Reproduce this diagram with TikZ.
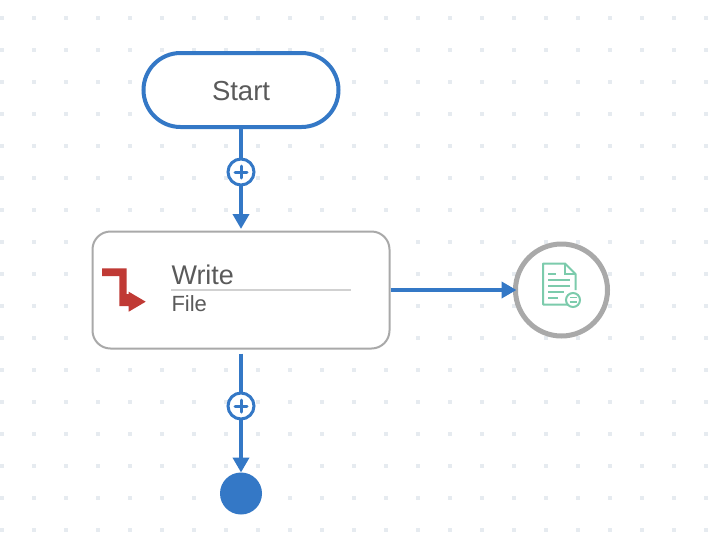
\documentclass[tikz,border=0pt]{standalone}
\usepackage{fontspec}
\setmainfont{Liberation Sans}
\usetikzlibrary{arrows.meta}
\definecolor{flowblue}{HTML}{3478C6}
\definecolor{boxgrey}{HTML}{A9A9A9}
\definecolor{txtgrey}{HTML}{5A5A5A}
\definecolor{dotgrey}{HTML}{E6EBF0}
\definecolor{iconred}{HTML}{C03A35}
\definecolor{icongreen}{HTML}{7CCBAC}
\tikzset{
  x=1pt,y=-1pt,
  startbox/.style={draw=flowblue,line width=4pt,fill=white,minimum width=195pt,minimum height=74pt,rounded corners=37pt,inner sep=0pt},
  taskbox/.style={draw=boxgrey,line width=2pt,fill=white,minimum width=297pt,minimum height=117pt,rounded corners=18pt,inner sep=0pt},
  eventcirc/.style={circle,draw=boxgrey,line width=5pt,fill=white,minimum size=92pt,inner sep=0pt},
  addcirc/.style={circle,draw=flowblue,line width=3pt,fill=white,minimum size=26pt,inner sep=0pt,outer sep=0pt},
  endcirc/.style={circle,fill=flowblue,minimum size=42pt,inner sep=0pt,outer sep=0pt},
  conn/.style={draw=flowblue,line width=4pt},
  arrowconn/.style={conn,-{Triangle[length=15pt,width=16pt]}},
  label/.style={inner sep=0pt,outer sep=0pt,text=txtgrey,anchor=base west},
  icongl/.style={draw=icongreen,line width=2pt},
}
\begin{document}
\begin{tikzpicture}
\useasboundingbox (0,0) rectangle (714,544);
\fill[white] (0,0) rectangle (714,544);
\foreach \i in {0,...,22}{\foreach \j in {0,...,16}{
  \fill[dotgrey] ({32*\i},{16+32*\j}) rectangle ++(4,4);
}}
\node[startbox] (start) at (241,90) {};
\node[label,font=\fontsize{27.5}{30}\selectfont] (starttxt) at (212,100.5) {Start};
\node[taskbox] (task) at (241,290) {};
\node[eventcirc] (event) at (561.5,290) {};
\node[addcirc] (add1) at (241,172) {};
\node[addcirc] (add2) at (241,406) {};
\node[endcirc] (end) at (241,493.5) {};
% connectors
\draw[conn] (start) -- (add1);
\draw[arrowconn,shorten >=1.5pt] (add1) -- (task);
\draw[conn,shorten <=4pt] (task) -- (add2);
\draw[arrowconn] (add2) -- (end);
\draw[arrowconn,shorten >=-3.5pt] (task.east) -- (event.west);
% plus signs
\draw[flowblue,line width=3pt,line cap=round] (235,172) -- (247,172) (241,166) -- (241,178);
\draw[flowblue,line width=3pt,line cap=round] (235,406) -- (247,406) (241,400) -- (241,412);
% task text
\node[label,font=\fontsize{27}{30}\selectfont] (writetxt) at (171.5,284.3) {Write};
\draw[draw=black!18,line width=2pt] (171,289.7) -- (351,289.7);
\node[label,font=\fontsize{22}{26}\selectfont] (filetxt) at (171.5,311.7) {File};
% red icon
\fill[iconred] (102,268.3) -- (126.7,268.3) -- (126.7,294) -- (128.7,294) -- (128.7,291.7) -- (145.7,301.7) -- (128.7,311.7) -- (128.7,306) -- (119.3,306) -- (119.3,276) -- (102,276) -- cycle;
% document icon
\draw[icongl,line join=round] (569,304.5) -- (543,304.5) -- (543,263.5) -- (565,263.5) -- (575.5,274) -- (575.5,290);
\draw[icongl,line width=1.5pt] (565,263.5) -- (565,274) -- (575.5,274);
\draw[icongl,line width=2.2pt] (548,274) -- (556,274);
\draw[icongl,line width=2.2pt] (548,280) -- (570,280);
\draw[icongl,line width=2.2pt] (548,286) -- (570,286);
\draw[icongl,line width=2.2pt] (548,292) -- (564,292);
\draw[icongl,line width=2.2pt] (548,298) -- (558,298);
\draw[icongl,fill=white] (573,300) circle (7);
\draw[icongl,line width=1.8pt] (577,297.5) -- (569.5,297.5) (569.5,302) -- (577,302);
\end{tikzpicture}
\end{document}
